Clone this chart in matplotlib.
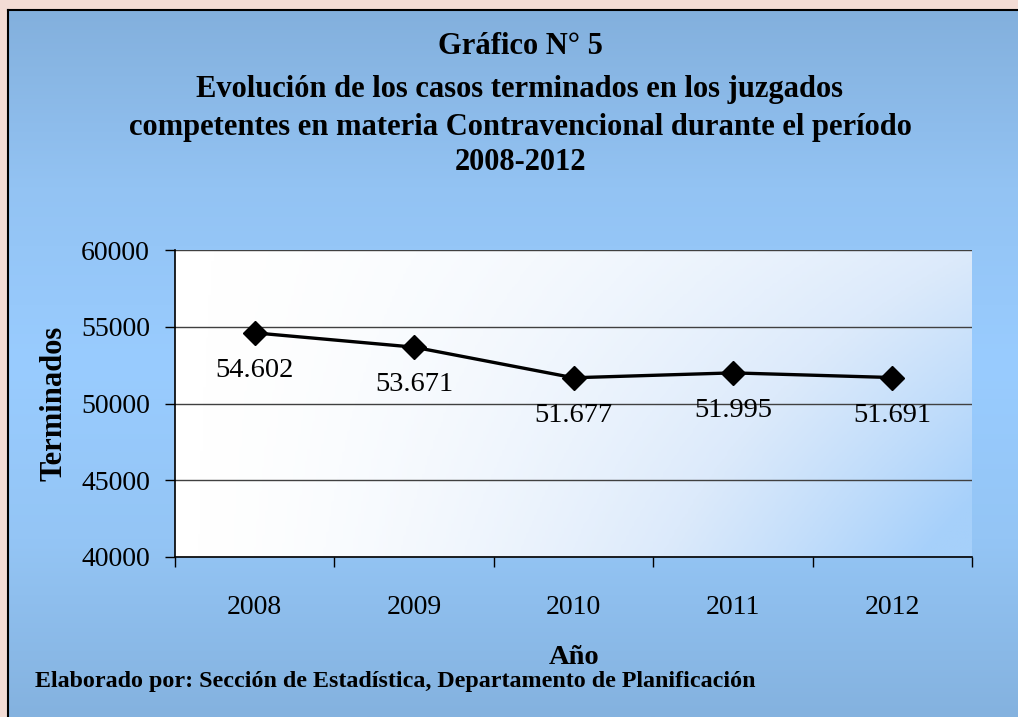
import numpy as np
import matplotlib.pyplot as plt
from matplotlib.colors import LinearSegmentedColormap

plt.rcParams['font.family'] = ['Liberation Serif', 'DejaVu Serif']

years = ['2008', '2009', '2010', '2011', '2012']
terminados = [54602, 53671, 51677, 51995, 51691]
labels = ['54.602', '53.671', '51.677', '51.995', '51.691']
yticks = [40000, 45000, 50000, 55000, 60000]

W, H = 1018, 717
fig = plt.figure(figsize=(W / 100, H / 100), dpi=100)
fig.patch.set_facecolor('#f3dcd5')

# chart box with vertical blue gradient
bg = fig.add_axes([8 / W, 0, 1 - 8 / W, 1 - 10 / H])
cm_bg = LinearSegmentedColormap.from_list('bg', ['#83b0dd', '#93c3f3', '#99ccff', '#94c5f5', '#84b2df'])
bg.imshow(np.linspace(0, 1, 256).reshape(-1, 1), cmap=cm_bg, aspect='auto', extent=[0, 1, 0, 1])
bg.set_xticks([])
bg.set_yticks([])
for s in ['right', 'bottom']:
    bg.spines[s].set_visible(False)
bg.spines['left'].set_linewidth(1.5)
bg.spines['top'].set_linewidth(1.5)

ax = fig.add_axes([175 / W, (H - 557) / H, 797 / W, 307 / H])
x = np.arange(len(years))

# plot area gradient white -> light blue
gx = np.linspace(0, 1, 300)
gy = np.linspace(0, 1, 100)
GX, GY = np.meshgrid(gx, gy)
t = np.clip(GX ** 1.6 * (0.5 + 0.6 * GY), 0, 1)
cm_pa = LinearSegmentedColormap.from_list('pa', ['#ffffff', '#dceafb', '#a6d0fa'])
ax.imshow(t, cmap=cm_pa, aspect='auto', extent=[-0.5, 4.5, 40000, 60000], origin='upper', zorder=0)

ax.set_xlim(-0.5, 4.5)
ax.set_ylim(40000, 60000)
ax.set_yticks(yticks)
ax.yaxis.grid(True, color='#404040', linewidth=1)
ax.set_axisbelow(True)

ax.plot(x, terminados, color='black', linewidth=2.4, marker='D', markersize=12, zorder=3)
for xi, yi, lab in zip(x, terminados, labels):
    ax.annotate(lab, (xi, yi), xytext=(0, -27), textcoords='offset points',
                ha='center', va='center', fontsize=20.5)

ax.set_xticks(x)
ax.set_xticklabels(years, fontsize=20)
ax.set_xticks(np.arange(-0.5, 5, 1), minor=True)
ax.tick_params(axis='x', which='major', length=0, pad=27)
ax.tick_params(axis='x', which='minor', length=7, width=1)
ax.tick_params(axis='y', labelsize=20, length=7, width=1, pad=11)

for s in ['top', 'right']:
    ax.spines[s].set_visible(False)
ax.spines['left'].set_linewidth(1.2)
ax.spines['bottom'].set_linewidth(1.2)

ax.set_ylabel('Terminados', fontsize=22, fontweight='bold')
ax.yaxis.set_label_coords(-0.133, 0.5)

title_lines = ['Gráfico N° 5',
               'Evolución de los casos terminados en los juzgados',
               'competentes en materia Contravencional durante el período',
               '2008-2012']
for line, yp in zip(title_lines, [47, 90, 127, 162]):
    fig.text(520 / W, 1 - yp / H, line, ha='center', va='center', fontsize=22, fontweight='bold')

fig.text(574 / W, 1 - 658 / H, 'Año', ha='center', va='center', fontsize=20.5, fontweight='bold')
fig.text(35 / W, 1 - 681 / H, 'Elaborado por: Sección de Estadística, Departamento de Planificación',
         ha='left', va='center', fontsize=17.3, fontweight='bold')

fig.savefig('out.png', dpi=100)
